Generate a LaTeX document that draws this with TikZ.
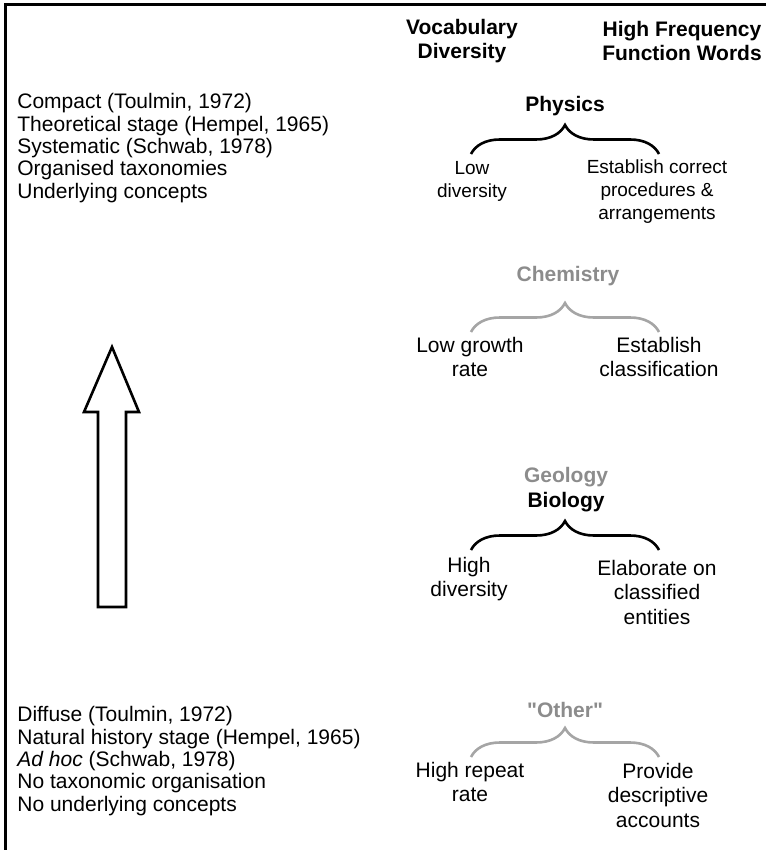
\documentclass[tikz,border=0pt]{standalone}
\usepackage{fontspec}
\setmainfont{Liberation Sans}[Ligatures=TeXOff]
\usetikzlibrary{decorations.pathreplacing}
\usetikzlibrary{positioning}

\definecolor{softgray}{RGB}{140,140,140}
\definecolor{bracegray}{RGB}{165,165,165}

\tikzset{
  lbl/.style={font=\fontsize{10.5}{12.25}\selectfont, align=center, inner sep=0pt},
  small/.style={font=\fontsize{9.5}{11.5}\selectfont, align=center, inner sep=0pt},
  head/.style={font=\fontsize{10.5}{12}\selectfont\bfseries, align=center, inner sep=0pt},
  stage/.style={font=\fontsize{10.5}{11.2}\selectfont, align=left, inner sep=0pt, anchor=north west},
  curly/.style={decorate, decoration={brace, amplitude=14.5pt}, line width=1.3pt},
}

\begin{document}
\begin{tikzpicture}[x=0.5pt,y=-0.5pt]
      \useasboundingbox (0,0) rectangle (766,850);
      % frame
      \draw[line width=1.5pt] (5,850) -- (5,5) -- (766,5);
      % column heads
      \node[head] (hvoc) at (462,41) {Vocabulary\\Diversity};
      \node[head] (hfun) at (682,41) {High Frequency\\Function Words};
      % the two ends of the scale
      \node[stage] (compact) at (17,93) {Compact (Toulmin, 1972)\\Theoretical stage (Hempel, 1965)\\
			Systematic (Schwab, 1978)\\Organised taxonomies\\Underlying concepts};
      \node[stage] (diffuse) at (17,706) {Diffuse (Toulmin, 1972)\\Natural history stage (Hempel, 1965)\\
			\textit{Ad hoc} (Schwab, 1978)\\No taxonomic organisation\\No underlying concepts};
      \draw[line width=1.3pt] (98,607) coordinate (a1) -- (98,412) coordinate (a2) -- (84,412) coordinate (a3)
      			-- (112,347) coordinate (a4) -- (139,412) coordinate (a5) -- (126,412) coordinate (a6)
			-- (126,607) coordinate (a7) -- cycle;
      % physics
      \node[head] (phy) at (565,106) {Physics};
      \coordinate (phyl) at (471,154); \coordinate (phyr) at (659,154);
      \draw[curly] (phyl) -- (phyr);
      \node[small] (phyvoc) at (472,181) {Low\\diversity};
      \node[small] (phyfun) at (657,192) {Establish correct\\procedures \&\\arrangements};
      % chemistry
      \node[head,softgray] (chem) at (568,276) {Chemistry};
      \coordinate (cheml) at (471,332); \coordinate (chemr) at (659,332);
      \draw[curly,bracegray] (cheml) -- (chemr);
      \node[lbl] (chemvoc) at (470,357) {Low growth\\rate};
      \node[lbl] (chemfun) at (659,357) {Establish\\classification};
      % geology and biology
      \node[head,softgray] (geo) at (566,477) {Geology};
      \node[head] (bio) at (566,502) {Biology};
      \coordinate (biol) at (471,550); \coordinate (bior) at (659,550);
      \draw[curly] (biol) -- (bior);
      \node[lbl] (biovoc) at (469,579) {High\\diversity};
      \node[lbl] (biofun) at (657,592) {Elaborate on\\classified\\entities};
      % other
      \node[head,softgray] (oth) at (565,710) {"Other"};
      \coordinate (othl) at (471,757); \coordinate (othr) at (659,757);
      \draw[curly,bracegray] (othl) -- (othr);
      \node[lbl] (othvoc) at (470,782) {High repeat\\rate};
      \node[lbl] (othfun) at (658,795) {Provide\\descriptive\\accounts};
\end{tikzpicture}
\end{document}
